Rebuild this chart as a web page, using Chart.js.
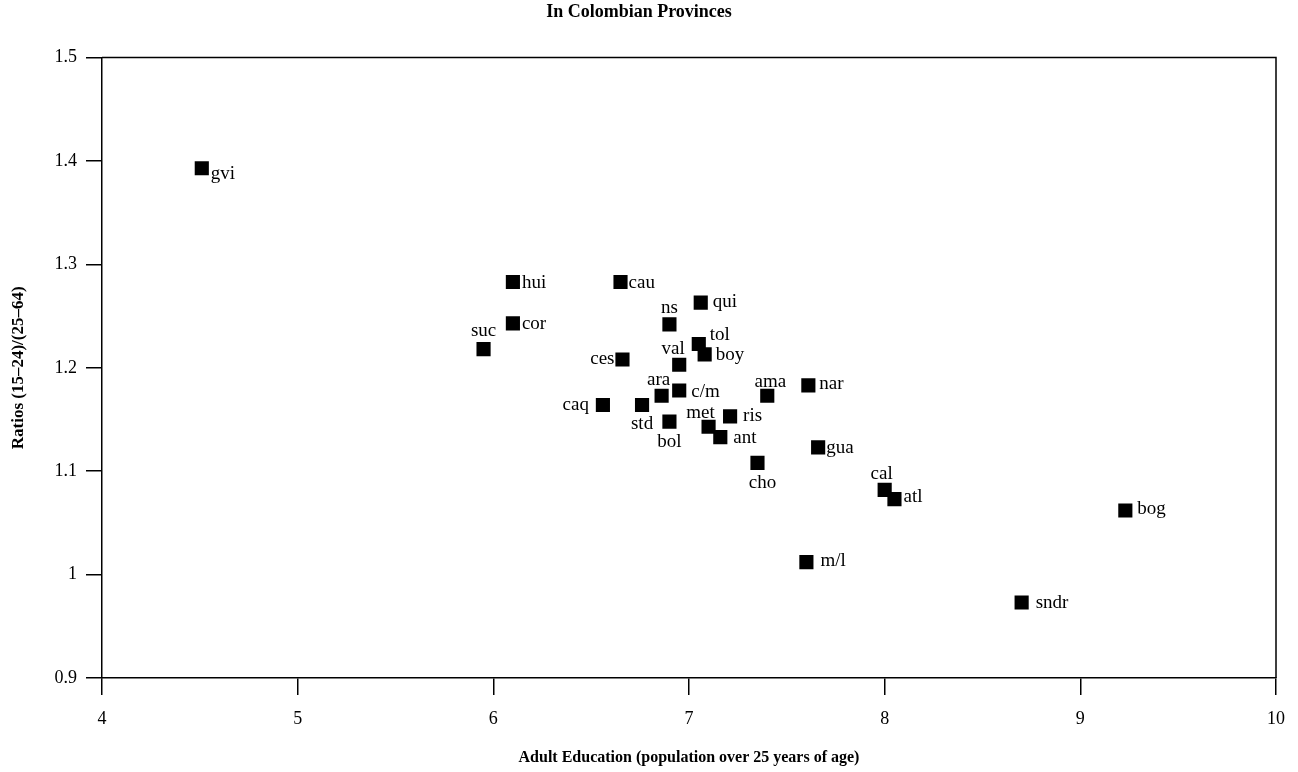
<!DOCTYPE html>
<html>
<head>
<meta charset="utf-8">
<script src="https://cdn.jsdelivr.net/npm/chart.js@4/dist/chart.umd.min.js"></script>
<style>
  html, body { margin: 0; padding: 0; background: #fff; }
  #wrap { width: 1298px; height: 772px; position: relative; }
</style>
</head>
<body>
<div id="wrap"><canvas id="c"></canvas></div>
<script>
// ---- data ----
const provinces = ['gvi','hui','cau','cor','suc','qui','ns','tol','boy','val','ces','c/m','ara','caq','std','bol','met','ris','ant','ama','nar','gua','cho','cal','atl','m/l','bog','sndr'];
const adultEducation = [4.51,6.10,6.65,6.10,5.95,7.06,6.90,7.05,7.08,6.95,6.66,6.95,6.86,6.56,6.76,6.90,7.10,7.21,7.16,7.40,7.61,7.66,7.35,8.00,8.05,7.60,9.23,8.70];
const ratios = [1.393,1.283,1.283,1.243,1.218,1.263,1.242,1.223,1.213,1.203,1.208,1.178,1.173,1.164,1.164,1.148,1.143,1.153,1.133,1.173,1.183,1.123,1.108,1.082,1.073,1.012,1.062,0.973];
const xTicks = [4,5,6,7,8,9,10];
const yTicks = [0.9,1.0,1.1,1.2,1.3,1.4,1.5];

// ---- label placement (style) ----
const labelPlacement = {
  'gvi':['right',9,7], 'hui':['right',9,2], 'cau':['right',8,2], 'cor':['right',9,2],
  'suc':['above',0,-17], 'qui':['right',12,0], 'ns':['above',0,-15], 'tol':['right',11,-8],
  'boy':['right',11,2], 'val':['above',-6,-15], 'ces':['left',-8,0], 'c/m':['right',12,2],
  'ara':['above',-3,-15], 'caq':['left',-14,1], 'std':['below',0,20], 'bol':['below',0,21],
  'met':['above',-8,-13], 'ris':['right',13,1], 'ant':['right',13,2], 'ama':['above',3,-13],
  'nar':['right',11,0], 'gua':['right',8,2], 'cho':['below',5,21], 'cal':['above',-3,-15],
  'atl':['right',9,-1], 'm/l':['right',14,0], 'bog':['right',12,0], 'sndr':['right',14,1]
};

const points = adultEducation.map((x, i) => ({x: x, y: ratios[i]}));
const serif = "'Liberation Serif', 'DejaVu Serif', serif";

const frameAndLabels = {
  id: 'frameAndLabels',
  afterDatasetsDraw(chart) {
    const ctx = chart.ctx;
    const a = chart.chartArea;
    ctx.save();
    ctx.strokeStyle = '#000';
    ctx.lineWidth = 1.5;
    ctx.beginPath();
    ctx.moveTo(a.left, a.top);
    ctx.lineTo(a.right, a.top);
    ctx.lineTo(a.right, a.bottom);
    ctx.stroke();

    ctx.fillStyle = '#000';
    ctx.font = '19px ' + serif;
    ctx.textBaseline = 'alphabetic';
    const meta = chart.getDatasetMeta(0);
    meta.data.forEach((el, i) => {
      const name = provinces[i];
      const p = labelPlacement[name] || ['right', 10, 0];
      const side = p[0];
      ctx.textAlign = side === 'right' ? 'left' : (side === 'left' ? 'right' : 'center');
      ctx.fillText(name, el.x + p[1], el.y + p[2] + 4);
    });
    ctx.restore();
  }
};

new Chart(document.getElementById('c'), {
  type: 'scatter',
  data: {
    datasets: [{
      data: points,
      pointStyle: 'rect',
      pointRadius: 10,
      pointHoverRadius: 10,
      backgroundColor: '#000',
      borderColor: '#000',
      borderWidth: 0
    }]
  },
  options: {
    responsive: true,
    maintainAspectRatio: false,
    animation: false,
    events: [],
    layout: { padding: { left: 0, right: 20, top: 0, bottom: 0 } },
    plugins: {
      legend: { display: false },
      tooltip: { enabled: false },
      title: {
        display: true,
        text: 'In Colombian Provinces',
        color: '#000',
        font: { family: serif, size: 18, weight: 'bold' },
        padding: { top: 2, bottom: 34 }
      }
    },
    scales: {
      x: {
        type: 'linear',
        min: 4, max: 10,
        afterFit(scale) { scale.height = 94; },
        afterBuildTicks(scale) { scale.ticks = xTicks.map(v => ({value: v})); },
        ticks: {
          color: '#000',
          font: { family: serif, size: 18 },
          padding: 13,
          maxRotation: 0,
          callback: v => String(v)
        },
        grid: { display: true, drawOnChartArea: false, drawTicks: true, tickLength: 17, color: '#000', lineWidth: 1.5 },
        border: { display: true, color: '#000', width: 1.5 },
        title: {
          display: true,
          text: 'Adult Education (population over 25 years of age)',
          color: '#000',
          font: { family: serif, size: 16, weight: 'bold' },
          padding: { top: 0, bottom: 5 }
        }
      },
      y: {
        type: 'linear',
        min: 0.9, max: 1.5,
        afterFit(scale) { scale.width = 102; },
        afterBuildTicks(scale) { scale.ticks = yTicks.map(v => ({value: v})); },
        ticks: {
          color: '#000',
          font: { family: serif, size: 18 },
          padding: 9,
          callback: v => String(Number(v.toFixed(1)))
        },
        grid: { display: true, drawOnChartArea: false, drawTicks: true, tickLength: 16, color: '#000', lineWidth: 1.5 },
        border: { display: true, color: '#000', width: 1.5 },
        title: {
          display: true,
          text: 'Ratios (15–24)/(25–64)',
          color: '#000',
          font: { family: serif, size: 17, weight: 'bold' },
          padding: { top: 8, bottom: 0 }
        }
      }
    }
  },
  plugins: [frameAndLabels]
});
</script>
</body>
</html>
